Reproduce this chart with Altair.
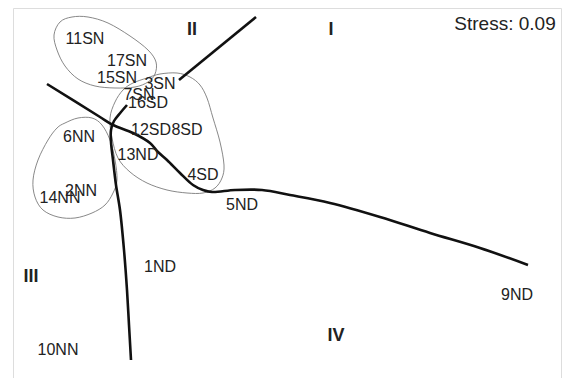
import altair as alt
import pandas as pd

# Sample labels and their ordination positions
site_labels = ["11SN", "17SN", "15SN", "3SN", "7SN", "16SD", "12SD", "8SD", "6NN",
               "13ND", "4SD", "2NN", "14NN", "5ND", "1ND", "10NN", "9ND"]
site_x = [85, 127, 117, 160, 139, 148, 151, 187, 79, 138, 203, 81, 60, 242, 160, 58, 517]
site_y = [39, 61, 78, 84, 95, 103, 130, 130, 137, 155, 175, 191, 198, 205, 267, 350, 295]

# Quadrant numerals
quad_labels = ["I", "II", "III", "IV"]
quad_x = [331, 192, 31, 336]
quad_y = [30, 30, 277, 336]

# Grouping hulls drawn round the sample clusters
hull_a_x = [54, 60, 72, 88, 108, 130, 148, 156, 155, 148, 135, 115, 95, 78, 65, 57]
hull_a_y = [35, 22, 17, 17, 23, 36, 50, 62, 74, 82, 87, 88, 86, 79, 66, 50]
hull_b_x = [147, 160, 177, 190, 200, 207, 213, 220, 224, 222, 215, 203, 187, 167, 147,
            130, 118, 112, 110, 115, 123, 133]
hull_b_y = [78, 74, 73, 77, 85, 98, 118, 142, 165, 178, 188, 193, 193, 190, 183,
            172, 158, 138, 118, 102, 90, 83]
hull_c_x = [65, 78, 92, 102, 110, 115, 117, 113, 105, 92, 75, 58, 43, 35, 33, 38, 48, 57]
hull_c_y = [123, 118, 118, 125, 140, 160, 180, 193, 205, 213, 218, 217, 210, 197, 180,
            160, 140, 128]

# Gradient curves separating the quadrants
curve_upper_x = [256, 179]
curve_upper_y = [17, 80]
curve_vert_x = [127, 121, 114, 111, 111, 113, 116, 120, 124, 127, 129, 131]
curve_vert_y = [105, 112, 121, 130, 142, 160, 185, 210, 250, 290, 325, 360]
curve_diag_x = [47, 100, 113, 133, 150, 158, 167, 180, 193, 203, 212, 235, 262,
                290, 330, 380, 430, 480, 528]
curve_diag_y = [84, 117, 125, 133, 143, 152, 160, 173, 185, 190, 192, 190, 190,
                195, 203, 217, 233, 248, 265]

stress_text = "Stress: 0.09"


def path_frame(name, xs, ys):
    return pd.DataFrame({"id": name, "i": range(len(xs)), "x": xs, "y": ys})


hulls = pd.concat([
    path_frame("a", hull_a_x, hull_a_y),
    path_frame("b", hull_b_x, hull_b_y),
    path_frame("c", hull_c_x, hull_c_y),
])
curves = pd.concat([
    path_frame("upper", curve_upper_x, curve_upper_y),
    path_frame("vert", curve_vert_x, curve_vert_y),
    path_frame("diag", curve_diag_x, curve_diag_y),
])
sites = pd.DataFrame({"label": site_labels, "x": site_x, "y": site_y})
quads = pd.DataFrame({"label": quad_labels, "x": quad_x, "y": quad_y})
stress = pd.DataFrame({"label": [stress_text], "x": [505], "y": [24]})

xs = alt.Scale(domain=[13, 561], nice=False, zero=False)
ys = alt.Scale(domain=[8, 380], nice=False, zero=False, reverse=True)
X = lambda: alt.X("x:Q", scale=xs, axis=None)
Y = lambda: alt.Y("y:Q", scale=ys, axis=None)

FONT = "Liberation Sans"

hull_layer = alt.Chart(hulls).mark_line(
    interpolate="cardinal-closed", stroke="#7a7a7a", strokeWidth=0.9
).encode(X(), Y(), detail="id:N", order="i:Q")

curve_layer = alt.Chart(curves).mark_line(
    interpolate="catmull-rom", stroke="#111111", strokeWidth=2.6
).encode(X(), Y(), detail="id:N", order="i:Q")

site_layer = alt.Chart(sites).mark_text(
    font=FONT, fontSize=16, color="#222222", align="center", baseline="middle"
).encode(X(), Y(), text="label:N")

quad_layer = alt.Chart(quads).mark_text(
    font=FONT, fontSize=18, fontWeight="bold", color="#222222",
    align="center", baseline="middle"
).encode(X(), Y(), text="label:N")

stress_layer = alt.Chart(stress).mark_text(
    font=FONT, fontSize=19, color="#222222", align="center", baseline="middle"
).encode(X(), Y(), text="label:N")

chart = alt.layer(
    hull_layer, curve_layer, site_layer, quad_layer, stress_layer
).properties(
    width=548, height=372,
    padding={"left": 13, "top": 8, "right": 2, "bottom": 0},
    autosize="none",
).configure_view(
    stroke="#8a8a8a", strokeWidth=1
).configure(background="white")

chart.save("out.html", embed_options={"renderer": "svg", "actions": False})
